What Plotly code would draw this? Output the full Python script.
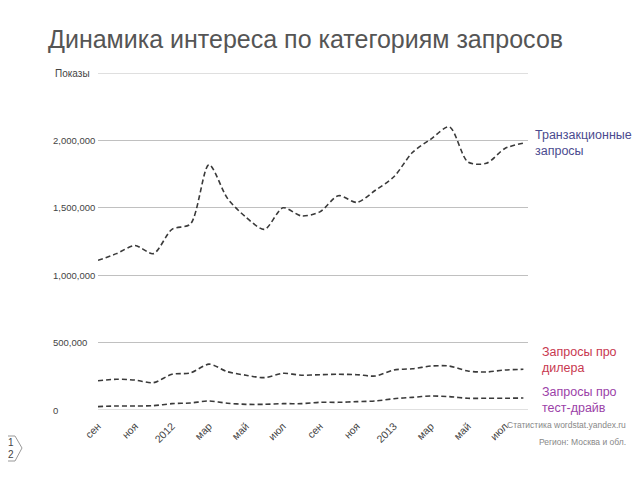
import plotly.graph_objects as go

months = ["2011-09", "2011-10", "2011-11", "2011-12", "2012-01", "2012-02", "2012-03", "2012-04",
          "2012-05", "2012-06", "2012-07", "2012-08", "2012-09", "2012-10", "2012-11", "2012-12",
          "2013-01", "2013-02", "2013-03", "2013-04", "2013-05", "2013-06", "2013-07", "2013-08"]

transactional = [1110000, 1160000, 1220000, 1160000, 1340000, 1380000, 1820000, 1570000,
                 1430000, 1340000, 1500000, 1440000, 1470000, 1590000, 1540000, 1630000,
                 1730000, 1910000, 2010000, 2100000, 1840000, 1830000, 1940000, 1980000]

dealer = [217000, 228000, 222000, 203000, 265000, 275000, 340000, 284000,
          258000, 240000, 272000, 258000, 262000, 265000, 262000, 252000,
          297000, 306000, 326000, 326000, 289000, 282000, 297000, 302000]

testdrive = [25000, 30000, 30000, 32000, 47000, 52000, 67000, 50000,
             42000, 42000, 47000, 47000, 57000, 57000, 62000, 67000,
             84000, 94000, 104000, 99000, 87000, 87000, 87000, 89000]

x_tick_idx = [0, 2, 4, 6, 8, 10, 12, 14, 16, 18, 20, 22]
x_tick_text = ["сен", "ноя", "2012", "мар", "май", "июл", "сен", "ноя", "2013", "мар", "май", "июл"]

y_tick_vals = [0, 500000, 1000000, 1500000, 2000000]
y_tick_text = ["0", "500,000", "1,000,000", "1,500,000", "2,000,000"]
y_axis_max = 2500000
y_axis_title = "Показы"

series_names = ["Транзакционные запросы", "Запросы про дилера", "Запросы про тест-драйв"]

xs = list(range(len(months)))
FONT = "Liberation Sans, Arial, sans-serif"

# page body has an 8px margin: figure is placed at (8, 8)
OFF = 8
W, H = 640 - OFF, 480 - OFF
PL, PR, PT, PB = 98, 528, 73, 410  # plot area in window pixels


def px(x):
    return (x - PL) / (PR - PL)


def py(y):
    return (PB - y) / (PB - PT)


fig = go.Figure()
for name, vals in zip(series_names, [transactional, dealer, testdrive]):
    fig.add_trace(go.Scatter(
        x=xs, y=vals, mode="lines", name=name,
        line=dict(color="#3a3a3a", width=1.6, dash="5px,3px", shape="spline", smoothing=0.8),
        hoverinfo="skip", showlegend=False,
    ))

fig.update_layout(
    width=W, height=H,
    margin=dict(l=PL - OFF, r=640 - PR, t=PT - OFF, b=480 - PB, pad=0),
    paper_bgcolor="white", plot_bgcolor="white",
    font=dict(family=FONT, color="#444444"),
    title=dict(text="Динамика интереса по категориям запросов",
               x=(48 - OFF) / W, xanchor="left", y=1 - (39 - OFF) / H, yanchor="middle",
               font=dict(size=25, color="#555555", family=FONT)),
    xaxis=dict(range=[0, 23.25], tickmode="array", tickvals=x_tick_idx, ticktext=x_tick_text,
               tickangle=-45, tickfont=dict(size=10.5, color="#444444"),
               showgrid=False, zeroline=False, showline=False,
               ticks="outside", ticklen=5, tickcolor="rgba(0,0,0,0)"),
    yaxis=dict(range=[0, y_axis_max], tickmode="array", tickvals=y_tick_vals + [y_axis_max],
               showticklabels=False,
               showgrid=True, gridcolor="#c0c0c0", gridwidth=1,
               zeroline=False, showline=False),
)

# edge gridlines (top and zero) that plotly omits at the range edges
for v in (0, y_axis_max):
    fig.add_shape(type="line", xref="paper", yref="y", x0=0, x1=1, y0=v, y1=v,
                  line=dict(color="#c0c0c0", width=1), layer="below")

# left-aligned y tick labels
for v, t in zip(y_tick_vals, y_tick_text):
    fig.add_annotation(x=px(51), y=v, xref="paper", yref="y", xanchor="left", yanchor="middle",
                       showarrow=False, text=t, font=dict(size=9.5, color="#444444", family=FONT))
fig.add_annotation(x=px(92), y=y_axis_max, xref="paper", yref="y", xanchor="right", yanchor="middle",
                   showarrow=False, text=y_axis_title, font=dict(size=10, color="#444444", family=FONT))

labels = [
    ("Транзакционные<br>запросы", 533, 143, "#4b4b8f"),
    ("Запросы про<br>дилера", 540, 360, "#c8384f"),
    ("Запросы про<br>тест-драйв", 540, 400, "#9b3fa8"),
]
for txt, lx, ly, col in labels:
    fig.add_annotation(x=px(lx), y=py(ly), xref="paper", yref="paper",
                       xanchor="left", yanchor="middle", align="left", showarrow=False,
                       text=txt, font=dict(size=12.5, color=col, family=FONT))

# source text
fig.add_annotation(x=px(628), y=py(425), xref="paper", yref="paper",
                   xanchor="right", yanchor="middle", align="right", showarrow=False,
                   text="Статистика wordstat.yandex.ru", font=dict(size=8.5, color="#888888", family=FONT))
fig.add_annotation(x=px(628), y=py(442), xref="paper", yref="paper",
                   xanchor="right", yanchor="middle", align="right", showarrow=False,
                   text="Регион: Москва и обл.", font=dict(size=8.5, color="#888888", family=FONT))

# page number marker
fig.add_shape(type="path", xref="paper", yref="paper",
              path="M {x0} {a} L {b} {a} L {c} {d} L {b} {e} L {x0} {e}".format(
                  x0=px(OFF), a=py(436), b=px(15), c=px(22), d=py(448), e=py(461)),
              line=dict(color="#999999", width=1))
fig.add_annotation(x=px(11), y=py(442), xref="paper", yref="paper", showarrow=False,
                   xanchor="center", yanchor="middle", text="1", font=dict(size=10, color="#444444", family=FONT))
fig.add_annotation(x=px(11), y=py(454), xref="paper", yref="paper", showarrow=False,
                   xanchor="center", yanchor="middle", text="2", font=dict(size=10, color="#444444", family=FONT))

fig.write_html("out.html")
